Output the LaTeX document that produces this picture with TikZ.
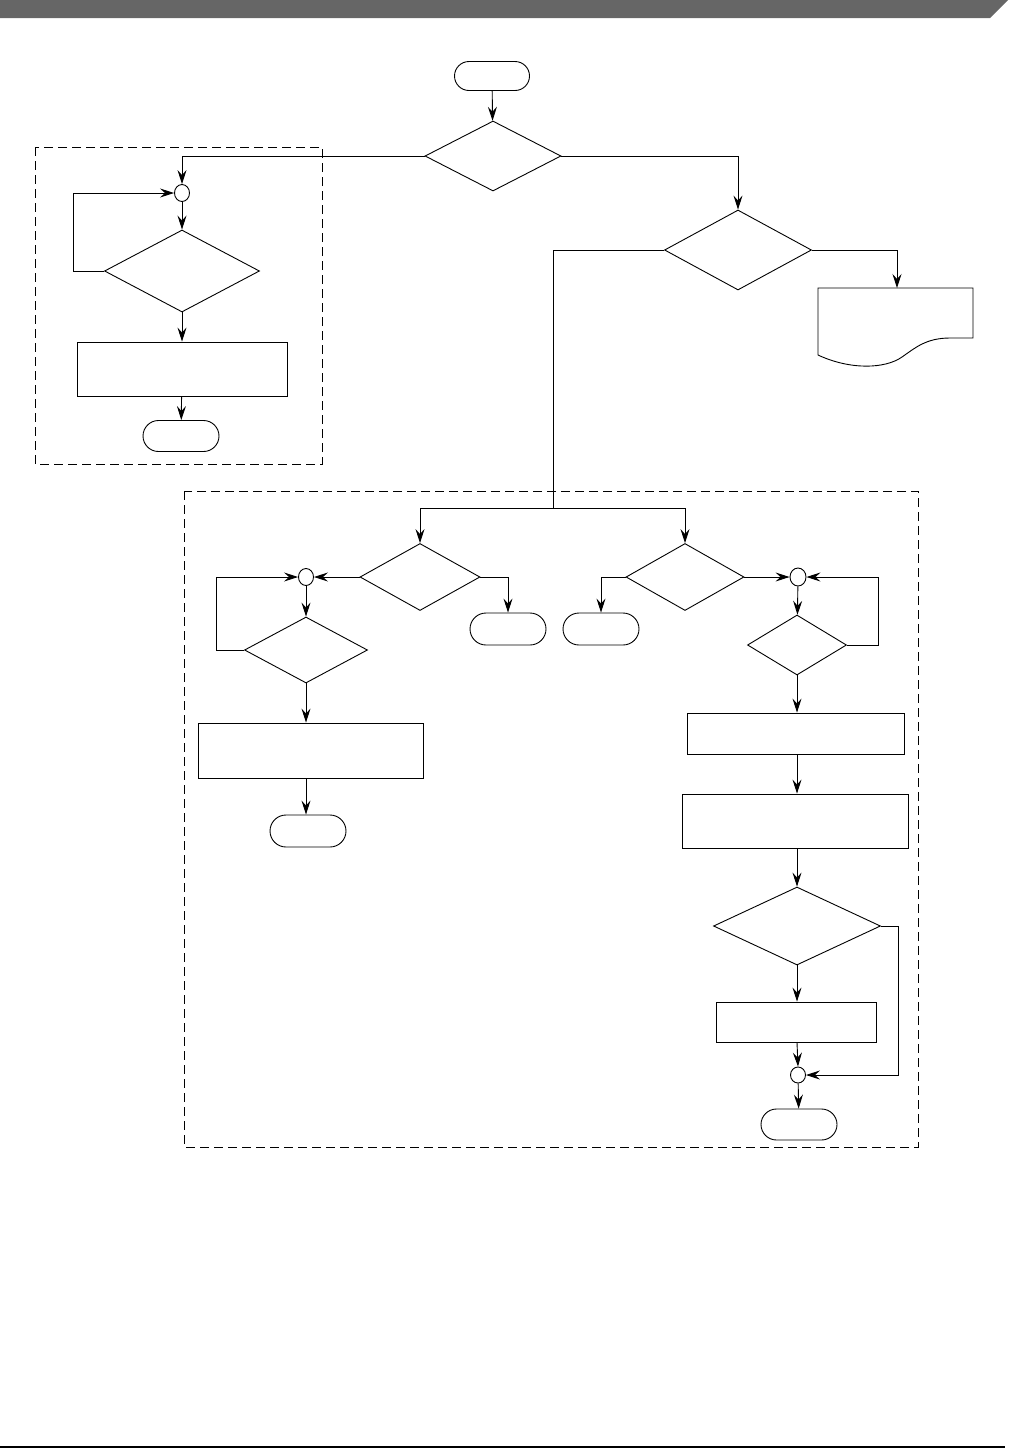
\documentclass[tikz,border=0pt]{standalone}
\usetikzlibrary{arrows.meta,shapes.geometric,shapes.misc}
\begin{document}
\begin{tikzpicture}[x=1pt,y=-1pt,
  line width=0.9pt,
  arr/.style={-{Stealth[length=14pt,width=9pt,inset=5pt]}},
  dec/.style={diamond,draw,inner sep=0pt},
  term/.style={rounded rectangle,draw,inner sep=0pt,minimum width=76pt,minimum height=31pt},
  proc/.style={rectangle,draw,inner sep=0pt},
  junc/.style={ellipse,draw,inner sep=0pt,minimum width=15pt,minimum height=17pt},
  grp/.style={draw,dash pattern=on 9pt off 5pt,line width=0.8pt}
]
\useasboundingbox (0,0) rectangle (1009,1449);
% page decorations
\fill[fill={rgb,255:red,102;green,102;blue,102}] (0,0) -- (1008,0) -- (990,18) -- (0,18) -- cycle;
\draw[line width=1.5pt] (0,1447) -- (1005,1447);

% groups
\draw[grp] (35,147) rectangle (322,464);
\draw[grp] (184,491) rectangle (918,1147);

% nodes
\node[term,minimum width=75pt,minimum height=29pt] (start) at (492,76) {};
\node[dec,minimum width=136pt,minimum height=70pt] (d1) at (493,156) {};
\node[junc] (c1) at (182,193) {};
\node[dec,minimum width=155pt,minimum height=82pt] (d2) at (182,271) {};
\node[proc,minimum width=210pt,minimum height=54pt] (r1) at (182,369) {};
\node[term] (t1) at (181,436) {};
\node[dec,minimum width=147pt,minimum height=80pt] (d3) at (738,250) {};

\node[dec,minimum width=120pt,minimum height=67pt] (d4) at (420,577) {};
\node[junc] (c2) at (306,577) {};
\node[term,minimum height=32pt] (t2) at (508,629) {};
\node[dec,minimum width=123pt,minimum height=66pt] (d6) at (306,650) {};
\node[proc,minimum width=225pt,minimum height=55pt] (r2) at (310.5,750.5) {};
\node[term,minimum height=32pt] (t3) at (308,831) {};

\node[dec,minimum width=118pt,minimum height=67pt] (d5) at (685,577) {};
\node[term,minimum height=32pt] (t4) at (601,629) {};
\node[junc,minimum width=16pt,minimum height=18pt] (c3) at (798,577) {};
\node[dec,minimum width=99pt,minimum height=60pt] (d7) at (797,645) {};
\node[proc,minimum width=217pt,minimum height=41pt] (r3) at (796,733.5) {};
\node[proc,minimum width=226pt,minimum height=54pt] (r4) at (795,821) {};
\node[dec,minimum width=167pt,minimum height=78pt] (d8) at (797,926) {};
\node[proc,minimum width=160pt,minimum height=40pt] (r5) at (796,1022) {};
\node[junc,minimum height=16pt] (c4) at (798,1075) {};
\node[term] (t5) at (799,1124.5) {};

% document shape
\coordinate (doctl) at (818,288);
\coordinate (doctop) at (897,288);
\draw (doctl) -- (973,288) -- (973,338) -- (950,338)
  .. controls (926,338) and (915,348) .. (902,357)
  .. controls (885,369) and (850,370) .. (818,355) -- cycle;

% connectors
\draw[arr] (start) -- (d1);
\draw[arr] (d1.west) -| (c1.north);
\draw[arr] (c1) -- (d2);
\draw[arr] (d2.west) -- ++(-31,0) |- (c1.west);
\draw[arr] (d2) -- (r1);
\draw[arr] (r1) -- (t1);

\draw[arr] (d1.east) -| (d3.north);
\draw[arr] (d3.east) -| (doctop);

\coordinate (split) at (553,508);
\draw (d3.west) -| (split);
\draw[arr] (split) -| (d4.north);
\draw[arr] (split) -| (d5.north);

\draw[arr] (d4.west) -- (c2.east);
\draw[arr] (d4.east) -| (t2.north);
\draw[arr] (c2) -- (d6);
\draw[arr] (d6.west) -- ++(-28,0) |- (c2.west);
\draw[arr] (d6.south) -- (d6.south |- r2.north);
\draw[arr] (d6.south |- r2.south) -- (d6.south |- t3.north);

\draw[arr] (d5.west) -| (t4.north);
\draw[arr] (d5.east) -- (c3.west);
\draw[arr] (c3) -- (d7);
\draw[arr] (d7.east) -- (878,645) |- (c3.east);
\draw[arr] (d7.south) -- (d7.south |- r3.north);
\draw[arr] (d7.south |- r3.south) -- (d7.south |- r4.north);
\draw[arr] (d7.south |- r4.south) -- (d8.north);
\draw[arr] (d8.south) -- (d8.south |- r5.north);
\draw[arr] (d8.south |- r5.south) -- (c4.north);
\draw[arr] (c4) -- (t5);
\draw[arr] (d8.east) -- (898,926) |- (c4.east);
\end{tikzpicture}
\end{document}
